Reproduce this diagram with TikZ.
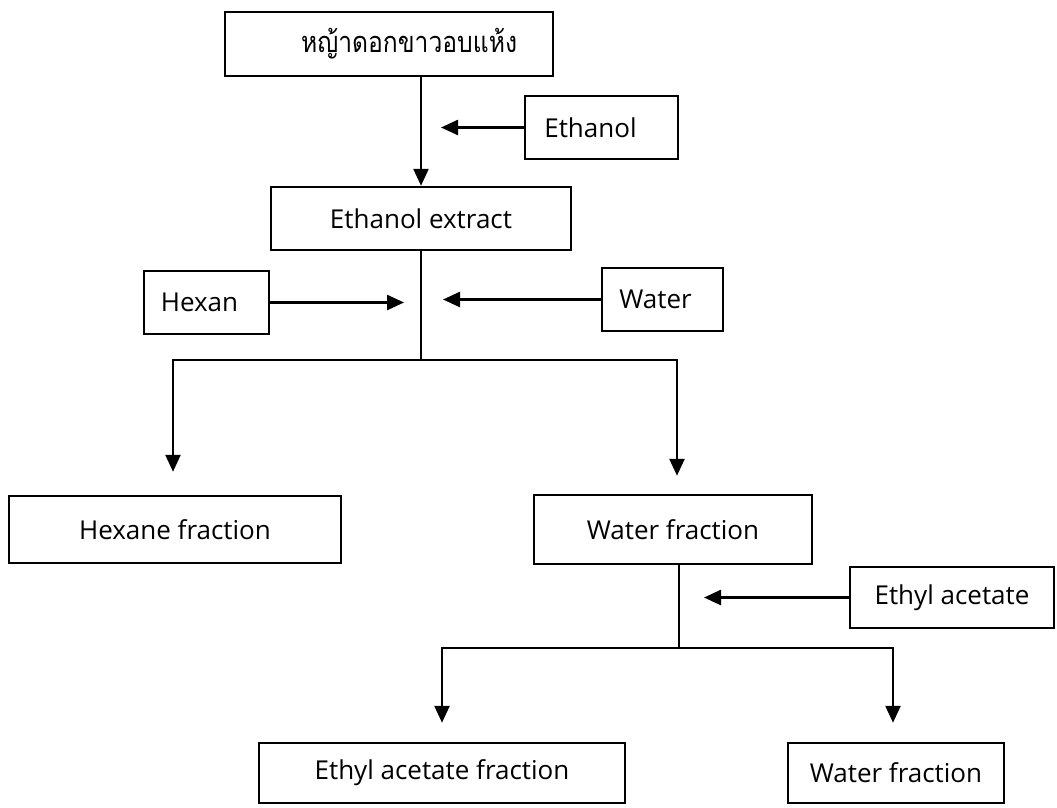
\documentclass[tikz,border=0pt]{standalone}
\usepackage{fontspec}
\setmainfont{Open Sans}
\newfontfamily\thaifont[Script=Thai,FakeStretch=0.85]{Loma}
\usetikzlibrary{arrows.meta}
\begin{document}
\begin{tikzpicture}[x=1pt,y=-1pt,
  box/.style={draw,line width=2.5pt,inner sep=0pt,font=\fontsize{26}{30}\selectfont},
  arr/.style={line width=2.5pt,-{Triangle[length=17pt,width=15pt]}},
  ln/.style={line width=2.5pt}]
\useasboundingbox (0,0) rectangle (1057,807);
% boxes
\node[box,minimum width=328pt,minimum height=64pt] (raw) at (389,44) {\hspace*{40pt}\raisebox{-3pt}{\thaifont\fontsize{29}{32}\selectfont หญ้าดอกขาวอบแห้ง}};
\node[box,minimum width=153pt,minimum height=63pt] (eth) at (601.5,127.5) {\raisebox{-3pt}{Ethanol}\hspace*{22pt}};
\node[box,minimum width=300pt,minimum height=63pt] (extract) at (421,218.5) {\raisebox{-3pt}{Ethanol extract}};
\node[box,minimum width=125pt,minimum height=63pt] (hexan) at (206.5,302.5) {\raisebox{-5pt}{Hexan}\hspace*{14pt}};
\node[box,minimum width=121pt,minimum height=63pt] (water) at (662.5,299.5) {\raisebox{-3pt}{Water}\hspace*{14pt}};
\node[box,minimum width=332pt,minimum height=67pt] (hexfrac) at (175,529.5) {Hexane fraction};
\node[box,minimum width=278pt,minimum height=69pt] (wfrac) at (673,529.5) {Water fraction};
\node[box,minimum width=204pt,minimum height=61pt] (ethyl) at (952,597.5) {\raisebox{-3pt}{Ethyl acetate}};
\node[box,minimum width=366pt,minimum height=60pt] (eafrac) at (442,773) {Ethyl acetate fraction};
\node[box,minimum width=216pt,minimum height=60pt] (wfrac2) at (896,773) {Water fraction};
% coordinates
\coordinate (ethtip) at (441,127.5);
\coordinate (j1) at (421,360);
\coordinate (b1L) at (173,360);
\coordinate (b1R) at (677,360);
\coordinate (htip) at (404,302.5);
\coordinate (wtip) at (443,299.5);
\coordinate (j2) at (679,648);
\coordinate (etip) at (704,597.5);
\coordinate (b2L) at (442,648);
\coordinate (b2R) at (893,648);
% connectors
\draw[arr] (raw.south -| extract.north) -- (extract.north);
\draw[arr] (eth.west) -- (ethtip);
\draw[ln] (extract.south) -- (j1);
\draw[arr,shorten >=23pt] (b1R) -- (b1L) -- (b1L |- hexfrac.north);
\draw[arr,shorten >=18pt] (b1L) -- (b1R) -- (b1R |- wfrac.north);
\draw[arr] (hexan.east) -- (htip);
\draw[arr] (water.west) -- (wtip);
\draw[ln] (wfrac.south -| j2) -- (j2);
\draw[arr] (ethyl.west) -- (etip);
\draw[arr,shorten >=19pt] (b2R) -- (b2L) -- (b2L |- eafrac.north);
\draw[arr,shorten >=19pt] (b2L) -- (b2R) -- (b2R |- wfrac2.north);
\end{tikzpicture}
\end{document}
